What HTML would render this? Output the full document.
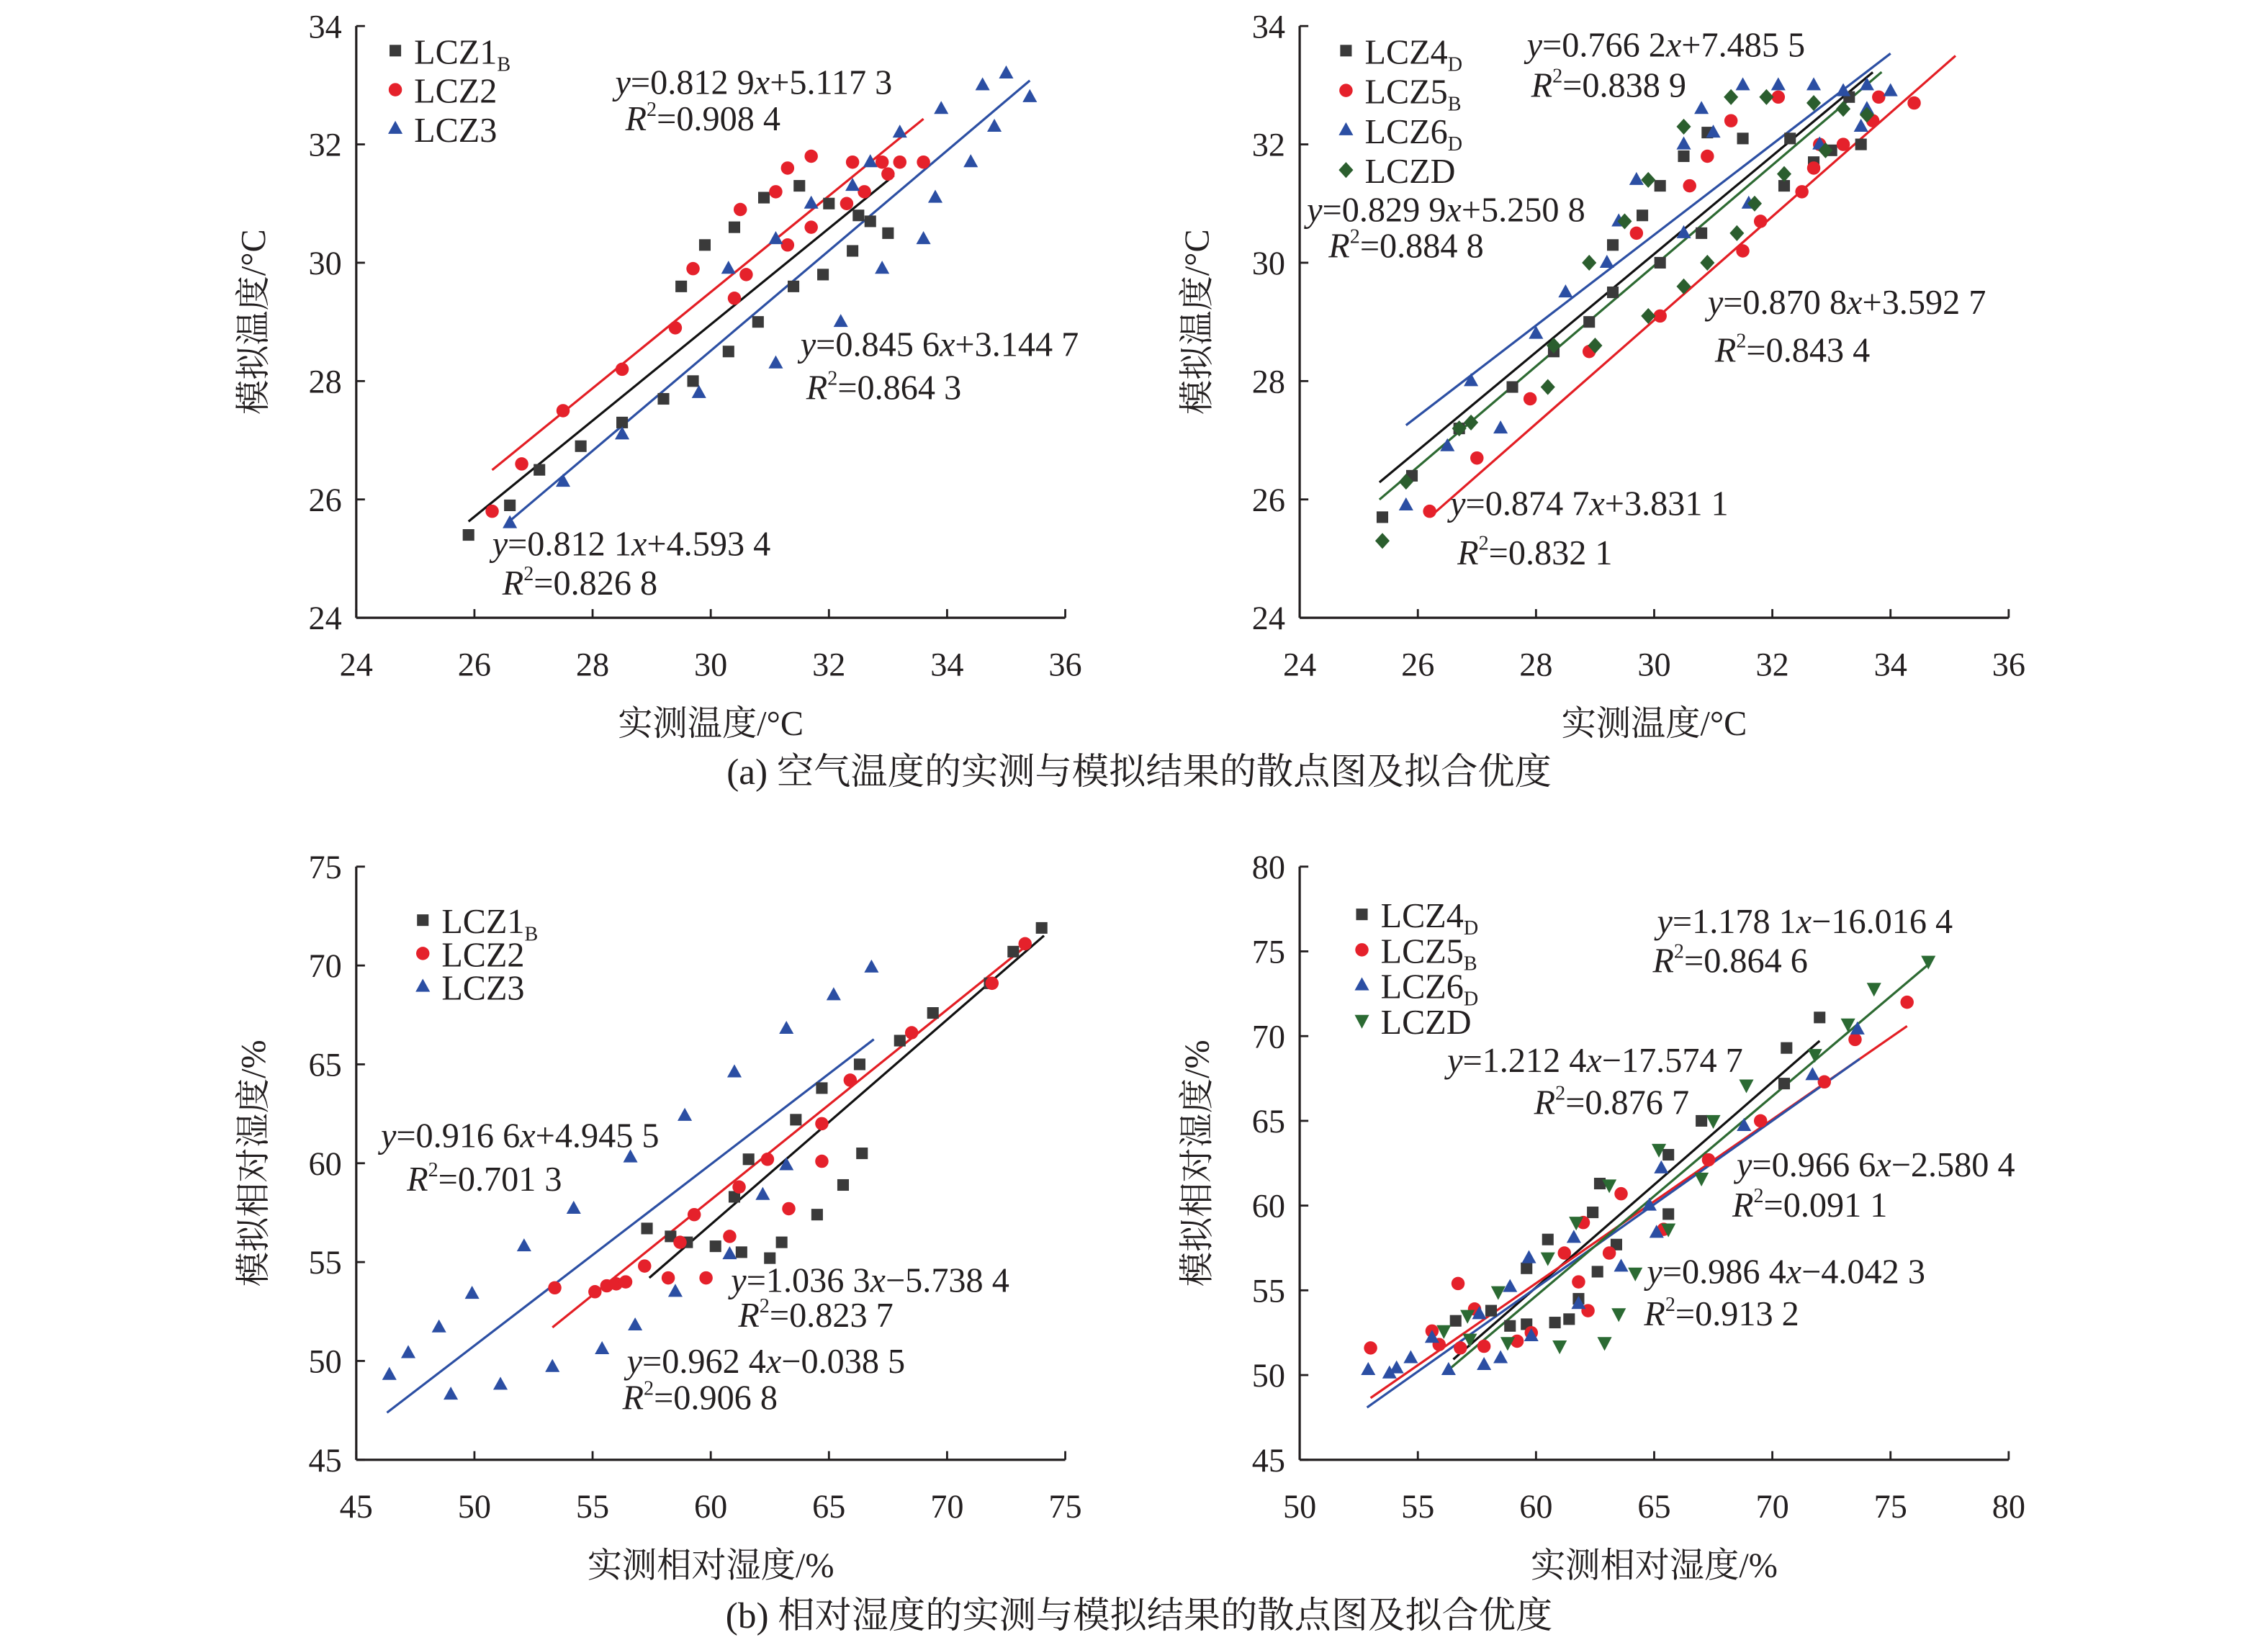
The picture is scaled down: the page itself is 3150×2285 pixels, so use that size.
<!DOCTYPE html>
<html><head><meta charset="utf-8">
<style>
html,body{margin:0;padding:0;background:#fff;}
svg{display:block;}
text{font-family:"Liberation Serif","Noto Serif CJK SC",serif;fill:#231f20;}
</style></head>
<body>
<svg id="fig" xmlns="http://www.w3.org/2000/svg" width="3150" height="2285" viewBox="0 0 1567 1137"></svg>
<script>
// ===== Chart A =====
const aTicksX = [24,26,28,30,32,34,36];
const aTicksY = [24,26,28,30,32,34];
const a1x = [25.9,26.6,27.1,27.8,28.5,29.2,29.7,29.5,29.9,30.3,30.4,30.8,30.9,31.4,31.5,31.9,32.0,32.4,32.5,32.7,33.0];
const a1y = [25.4,25.9,26.5,26.9,27.3,27.7,28.0,29.6,30.3,28.5,30.6,29.0,31.1,29.6,31.3,29.8,31.0,30.2,30.8,30.7,30.5];
const a2x = [26.3,26.8,27.5,28.5,29.4,29.7,30.4,30.5,30.6,31.1,31.3,31.3,31.7,31.7,32.3,32.4,32.6,32.9,33.0,33.2,33.6];
const a2y = [25.8,26.6,27.5,28.2,28.9,29.9,29.4,30.9,29.8,31.2,30.3,31.6,31.8,30.6,31.0,31.7,31.2,31.7,31.5,31.7,31.7];
const a3x = [26.6,27.5,28.5,29.8,30.3,31.1,31.1,31.7,32.2,32.4,32.7,32.9,33.2,33.6,33.8,33.9,34.4,34.6,34.8,35.0,35.4];
const a3y = [25.6,26.3,27.1,27.8,29.9,28.3,30.4,31.0,29.0,31.3,31.7,29.9,32.2,30.4,31.1,32.6,31.7,33.0,32.3,33.2,32.8];
const aFitSlope = [0.8121,0.8129,0.8456];
const aFitInter = [4.5934,5.1173,3.1447];
const aFitFrom = [25.9,26.3,26.6];
const aFitTo = [33.1,33.6,35.4];

// ===== Chart B =====
const bTicksX = [24,26,28,30,32,34,36];
const bTicksY = [24,26,28,30,32,34];
const b4x = [25.4,25.9,26.7,27.6,28.3,28.9,29.3,29.3,29.8,30.1,30.1,30.5,30.9,30.8,31.5,32.2,32.3,32.7,33.0,33.3,33.5];
const b4y = [25.7,26.4,27.2,27.9,28.5,29.0,29.5,30.3,30.8,31.3,30.0,31.8,32.2,30.5,32.1,31.3,32.1,31.7,31.9,32.8,32.0];
const b5x = [26.2,27.0,27.9,28.9,29.7,30.1,30.6,30.9,31.3,31.5,31.8,32.1,32.5,32.7,32.8,33.2,33.7,33.8,34.4];
const b5y = [25.8,26.7,27.7,28.5,30.5,29.1,31.3,31.8,32.4,30.2,30.7,32.8,31.2,31.6,32.0,32.0,32.4,32.8,32.7];
const b6x = [25.8,26.5,26.9,27.4,28.0,28.5,29.2,29.4,29.7,30.5,30.5,30.8,31.0,31.5,31.6,32.1,32.7,32.8,33.2,33.5,33.6,33.6,34.0];
const b6y = [25.9,26.9,28.0,27.2,28.8,29.5,30.0,30.7,31.4,30.5,32.0,32.6,32.2,33.0,31.0,33.0,33.0,32.0,32.9,32.3,32.6,33.0,32.9];
const bDx = [25.4,25.8,26.7,26.9,28.2,28.3,28.9,29.0,29.5,29.9,29.9,30.5,30.5,30.9,31.3,31.4,31.7,31.9,32.2,32.7,32.9,33.2,33.6];
const bDy = [25.3,26.3,27.2,27.3,27.9,28.6,30.0,28.6,30.7,29.1,31.4,29.6,32.3,30.0,32.8,30.5,31.0,32.8,31.5,32.7,31.9,32.6,32.5];
const bFitSlope = [0.8299,0.8760,0.7662,0.8500];
const bFitInter = [5.2508,2.75,7.4855,4.45];
const bFitFrom = [25.35,26.2,25.8,25.35];
const bFitTo = [33.7,35.1,34.0,33.85];

// ===== Chart C =====
const cTicksX = [45,50,55,60,65,70,75];
const cTicksY = [45,50,55,60,65,70,75];
const c1x = [57.3,58.3,59.0,60.2,61.0,61.3,61.6,62.5,63.0,63.6,64.5,64.7,65.6,66.4,66.3,68.0,69.4,71.8,72.8,74.0];
const c1y = [56.7,56.3,56.0,55.8,58.3,55.5,60.2,55.2,56.0,62.2,57.4,63.8,58.9,60.5,65.0,66.2,67.6,69.1,70.7,71.9];
const c2x = [53.4,55.1,55.6,56.0,56.4,57.2,58.2,58.7,59.3,59.8,60.8,61.2,62.4,63.3,64.7,64.7,65.9,68.5,71.9,73.3];
const c2y = [53.7,53.5,53.8,53.9,54.0,54.8,54.2,56.0,57.4,54.2,56.3,58.8,60.2,57.7,62.0,60.1,64.2,66.6,69.1,71.1];
const c3x = [46.4,47.2,48.5,49.0,49.9,51.1,52.1,53.3,54.2,55.4,56.6,56.8,58.5,58.9,60.8,61.0,62.2,63.2,63.2,65.2,66.8];
const c3y = [49.3,50.4,51.7,48.3,53.4,48.8,55.8,49.7,57.7,50.6,60.3,51.8,53.5,62.4,55.4,64.6,58.4,66.8,59.9,68.5,69.9];
const cFitSlope = [1.0363,0.9624,0.9166];
const cFitInter = [-5.28,0.40,4.9455];
const cFitFrom = [57.4,53.3,46.3];
const cFitTo = [74.1,73.3,66.9];

// ===== Chart D =====
const dTicksX = [50,55,60,65,70,75,80];
const dTicksY = [45,50,55,60,65,70,75,80];
const d4x = [56.6,58.1,58.9,59.6,59.6,60.5,60.8,61.4,61.8,62.4,62.6,62.7,63.4,65.6,65.6,67.0,70.5,70.6,72.0];
const d4y = [53.2,53.8,52.9,56.3,53.0,58.0,53.1,53.3,54.5,59.6,56.1,61.3,57.7,63.0,59.5,65.0,67.2,69.3,71.1];
const d5x = [53.0,55.6,55.9,56.7,56.8,57.4,57.8,59.2,59.8,61.2,61.8,62.0,62.2,63.1,63.6,65.4,67.3,69.5,72.2,73.5,75.7];
const d5y = [51.6,52.6,51.8,55.4,51.6,53.9,51.7,52.0,52.5,57.2,55.5,59.0,53.8,57.2,60.7,58.6,62.7,65.0,67.3,69.8,72.0];
const d6x = [52.9,53.8,54.1,54.7,55.6,56.3,57.6,57.8,58.5,58.9,59.7,59.8,61.6,61.8,63.6,64.8,65.1,65.3,68.8,71.7,73.6];
const d6y = [50.3,50.1,50.4,51.0,52.2,50.3,53.6,50.6,51.0,55.2,56.9,52.3,58.1,54.2,56.4,60.0,58.4,62.2,64.7,67.7,70.4];
const dDx = [56.1,57.1,57.2,58.4,58.8,60.5,61.0,61.7,62.9,63.1,63.5,64.2,65.2,65.6,67.0,67.5,68.9,71.8,73.2,74.3,76.6];
const dDy = [52.6,53.5,52.1,54.9,51.9,56.9,51.7,59.0,51.9,61.2,53.6,56.0,63.3,58.6,61.6,65.0,67.1,68.9,70.7,72.8,74.4];
const dFitSlope = [1.2124,0.9666,0.9864,1.1781];
const dFitInter = [-17.5747,-2.5804,-4.0423,-16.0164];
const dFitFrom = [56.5,53.0,52.85,56.3];
const dFitTo = [72.0,75.7,73.7,76.6];

const NS = "http://www.w3.org/2000/svg";
const svg = document.getElementById('fig');
const COL = {sq:'#3a3a3a', ci:'#e5212b', tr:'#2b4ea3', dm:'#2b5e2e', dn:'#2b6a33'};
const LINE = {k:'#111111', r:'#e31e24', b:'#2c4fa3', g:'#2d6a32'};

function mk(tag, attrs, parent){
  const e = document.createElementNS(NS, tag);
  for (const k in attrs) e.setAttribute(k, attrs[k]);
  (parent||svg).appendChild(e);
  return e;
}
function marker(g, kind, cx, cy, color){
  let e;
  if (kind==='sq') e = mk('rect',{x:cx-4,y:cy-4,width:8,height:8,fill:color},g);
  else if (kind==='ci') e = mk('circle',{cx:cx,cy:cy,r:4.6,fill:color},g);
  else if (kind==='tr') e = mk('polygon',{points:`${cx},${cy-5.5} ${cx+5},${cy+3.5} ${cx-5},${cy+3.5}`,fill:color},g);
  else if (kind==='dn') e = mk('polygon',{points:`${cx-5},${cy-4} ${cx+5},${cy-4} ${cx},${cy+5.5}`,fill:color},g);
  else e = mk('polygon',{points:`${cx},${cy-5.5} ${cx+5},${cy} ${cx},${cy+5.5} ${cx-5},${cy}`,fill:color},g);
  return e;
}
function eqText(g, x, y, parts, name){
  const t = mk('text',{x:x,y:y,'font-size':24},g);
  
  
  parts.forEach(p=>{
    const s = document.createElementNS(NS,'tspan');
    if (p[1]==='i') s.setAttribute('font-style','italic');
    if (p[1]==='sup'){ s.setAttribute('font-size','14'); s.setAttribute('dy','-10'); }
    if (p[1]==='down'){ s.setAttribute('dy','10'); }
    s.textContent = p[0];
    t.appendChild(s);
  });
}
function eqn(g,x,y,str,name){
  const i = str.indexOf('x');
  eqText(g,x,y,[['y','i'],['='+str.slice(0,i),''],['x','i'],[str.slice(i+1),'']],name);
}
function r2(g,x,y,val,name){
  eqText(g,x,y,[['R','i'],['2','sup'],['=' + val,'down']],name);
}

function chart(c){
  const g = mk('g',{});
  
  
  const sx = v => c.x0 + (v - c.xmin)/(c.xmax - c.xmin)*(c.x1 - c.x0);
  const sy = v => c.y0 - (v - c.ymin)/(c.ymax - c.ymin)*(c.y0 - c.y1);
  const ax = mk('g',{},g);
  
  
  mk('line',{x1:c.x0,y1:c.y0,x2:c.x1,y2:c.y0,stroke:'#231f20','stroke-width':1.6},ax);
  mk('line',{x1:c.x0,y1:c.y0,x2:c.x0,y2:c.y1,stroke:'#231f20','stroke-width':1.6},ax);
  c.ticksX.forEach(v=>{
    const x = sx(v);
    mk('line',{x1:x,y1:c.y0,x2:x,y2:c.y0-6,stroke:'#231f20','stroke-width':1.4},ax);
    const t = mk('text',{x:x,y:c.y0+40,'font-size':23,'text-anchor':'middle'},ax);
    
    
    t.textContent = v;
  });
  c.ticksY.forEach(v=>{
    const y = sy(v);
    mk('line',{x1:c.x0,y1:y,x2:c.x0+6,y2:y,stroke:'#231f20','stroke-width':1.4},ax);
    const t = mk('text',{x:c.x0-10,y:y+8,'font-size':23,'text-anchor':'end'},ax);
    
    
    t.textContent = v;
  });
  const xt = mk('text',{x:(c.x0+c.x1)/2,y:c.y0+81,'font-size':24,'text-anchor':'middle'},g);
  
  
  xt.textContent = c.xTitle;
  const yx = c.x0-63, yy = (c.y0+c.y1)/2;
  const yt = mk('text',{x:yx,y:yy,'font-size':24,'text-anchor':'middle',transform:`rotate(-90 ${yx} ${yy})`},g);
  
  
  yt.textContent = c.yTitle;
  c.fits.forEach(f=>{
    const x1=f.from, x2=f.to;
    const l = mk('line',{x1:sx(x1),y1:sy(f.m*x1+f.b),x2:sx(x2),y2:sy(f.m*x2+f.b),stroke:f.color,'stroke-width':1.6},g);
    
    
  });
  c.series.forEach(s=>{
    const sg = mk('g',{},g);
    
    
    s.x.forEach((v,i)=>{
      const m = marker(sg, s.kind, sx(v), sy(s.y[i]), s.color);
      
      
    });
  });
  const lg = mk('g',{},g);
  
  
  c.series.forEach((s,i)=>{
    const y = c.legY + i*c.legDy;
    const eg = mk('g',{},lg);
    
    
    marker(eg, s.kind, c.legX, y, s.color);
    const t = mk('text',{x:c.legX+13,y:y+9,'font-size':24},eg);
    const a = document.createElementNS(NS,'tspan'); a.textContent = s.label; t.appendChild(a);
    if (s.sub){
      const b = document.createElementNS(NS,'tspan');
      b.setAttribute('font-size','14'); b.setAttribute('dy','5');
      b.textContent = s.sub; t.appendChild(b);
    }
  });
  c.notes.forEach(n=>{
    eqn(g, n.x, n.y, n.eq, 'equation-'+n.id);
    r2(g, n.rx, n.ry, n.r, 'r-squared-'+n.id);
  });
}

chart({name:'chart-a-temperature-lcz1-3', x0:246,x1:736,y0:427,y1:18, xmin:24,xmax:36,ymin:24,ymax:34,
  ticksX:aTicksX, ticksY:aTicksY, xTitle:'实测温度/°C', yTitle:'模拟温度/°C',
  legX:273, legY:35, legDy:27,
  series:[
    {id:'lcz1b',kind:'sq',color:COL.sq,x:a1x,y:a1y,label:'LCZ1',sub:'B'},
    {id:'lcz2',kind:'ci',color:COL.ci,x:a2x,y:a2y,label:'LCZ2'},
    {id:'lcz3',kind:'tr',color:COL.tr,x:a3x,y:a3y,label:'LCZ3'}],
  fits:[
    {id:'lcz1b',color:LINE.k,m:aFitSlope[0],b:aFitInter[0],from:aFitFrom[0],to:aFitTo[0]},
    {id:'lcz2',color:LINE.r,m:aFitSlope[1],b:aFitInter[1],from:aFitFrom[1],to:aFitTo[1]},
    {id:'lcz3',color:LINE.b,m:aFitSlope[2],b:aFitInter[2],from:aFitFrom[2],to:aFitTo[2]}],
  notes:[
    {id:'lcz2',x:425,y:65,eq:'0.812 9x+5.117 3',rx:432,ry:90,r:'0.908 4'},
    {id:'lcz3',x:553,y:246,eq:'0.845 6x+3.144 7',rx:557,ry:276,r:'0.864 3'},
    {id:'lcz1b',x:340,y:384,eq:'0.812 1x+4.593 4',rx:347,ry:411,r:'0.826 8'}]
});

chart({name:'chart-b-temperature-lcz4-6', x0:898,x1:1388,y0:427,y1:18, xmin:24,xmax:36,ymin:24,ymax:34,
  ticksX:bTicksX, ticksY:bTicksY, xTitle:'实测温度/°C', yTitle:'模拟温度/°C',
  legX:930, legY:35, legDy:27.5,
  series:[
    {id:'lcz4d',kind:'sq',color:COL.sq,x:b4x,y:b4y,label:'LCZ4',sub:'D'},
    {id:'lcz5b',kind:'ci',color:COL.ci,x:b5x,y:b5y,label:'LCZ5',sub:'B'},
    {id:'lcz6d',kind:'tr',color:COL.tr,x:b6x,y:b6y,label:'LCZ6',sub:'D'},
    {id:'lczd',kind:'dm',color:COL.dm,x:bDx,y:bDy,label:'LCZD'}],
  fits:[
    {id:'lcz4d',color:LINE.k,m:bFitSlope[0],b:bFitInter[0],from:bFitFrom[0],to:bFitTo[0]},
    {id:'lcz5b',color:LINE.r,m:bFitSlope[1],b:bFitInter[1],from:bFitFrom[1],to:bFitTo[1]},
    {id:'lcz6d',color:LINE.b,m:bFitSlope[2],b:bFitInter[2],from:bFitFrom[2],to:bFitTo[2]},
    {id:'lczd',color:LINE.g,m:bFitSlope[3],b:bFitInter[3],from:bFitFrom[3],to:bFitTo[3]}],
  notes:[
    {id:'lcz6d',x:1055,y:39,eq:'0.766 2x+7.485 5',rx:1058,ry:67,r:'0.838 9'},
    {id:'lcz4d',x:903,y:153,eq:'0.829 9x+5.250 8',rx:918,ry:178,r:'0.884 8'},
    {id:'lcz5b',x:1180,y:217,eq:'0.870 8x+3.592 7',rx:1185,ry:250,r:'0.843 4'},
    {id:'lczd',x:1002,y:356,eq:'0.874 7x+3.831 1',rx:1007,ry:390,r:'0.832 1'}]
});

chart({name:'chart-c-humidity-lcz1-3', x0:246,x1:736,y0:1009,y1:599, xmin:45,xmax:75,ymin:45,ymax:75,
  ticksX:cTicksX, ticksY:cTicksY, xTitle:'实测相对湿度/%', yTitle:'模拟相对湿度/%',
  legX:292, legY:636, legDy:23,
  series:[
    {id:'lcz1b',kind:'sq',color:COL.sq,x:c1x,y:c1y,label:'LCZ1',sub:'B'},
    {id:'lcz2',kind:'ci',color:COL.ci,x:c2x,y:c2y,label:'LCZ2'},
    {id:'lcz3',kind:'tr',color:COL.tr,x:c3x,y:c3y,label:'LCZ3'}],
  fits:[
    {id:'lcz1b',color:LINE.k,m:cFitSlope[0],b:cFitInter[0],from:cFitFrom[0],to:cFitTo[0]},
    {id:'lcz2',color:LINE.r,m:cFitSlope[1],b:cFitInter[1],from:cFitFrom[1],to:cFitTo[1]},
    {id:'lcz3',color:LINE.b,m:cFitSlope[2],b:cFitInter[2],from:cFitFrom[2],to:cFitTo[2]}],
  notes:[
    {id:'lcz3',x:263,y:793,eq:'0.916 6x+4.945 5',rx:281,ry:823,r:'0.701 3'},
    {id:'lcz1b',x:505,y:893,eq:'1.036 3x−5.738 4',rx:510,ry:917,r:'0.823 7'},
    {id:'lcz2',x:433,y:949,eq:'0.962 4x−0.038 5',rx:430,ry:974,r:'0.906 8'}]
});

chart({name:'chart-d-humidity-lcz4-6', x0:898,x1:1388,y0:1009,y1:599, xmin:50,xmax:80,ymin:45,ymax:80,
  ticksX:dTicksX, ticksY:dTicksY, xTitle:'实测相对湿度/%', yTitle:'模拟相对湿度/%',
  legX:941, legY:632, legDy:24.5,
  series:[
    {id:'lcz4d',kind:'sq',color:COL.sq,x:d4x,y:d4y,label:'LCZ4',sub:'D'},
    {id:'lcz5b',kind:'ci',color:COL.ci,x:d5x,y:d5y,label:'LCZ5',sub:'B'},
    {id:'lcz6d',kind:'tr',color:COL.tr,x:d6x,y:d6y,label:'LCZ6',sub:'D'},
    {id:'lczd',kind:'dn',color:COL.dn,x:dDx,y:dDy,label:'LCZD'}],
  fits:[
    {id:'lcz4d',color:LINE.k,m:dFitSlope[0],b:dFitInter[0],from:dFitFrom[0],to:dFitTo[0]},
    {id:'lcz5b',color:LINE.r,m:dFitSlope[1],b:dFitInter[1],from:dFitFrom[1],to:dFitTo[1]},
    {id:'lcz6d',color:LINE.b,m:dFitSlope[2],b:dFitInter[2],from:dFitFrom[2],to:dFitTo[2]},
    {id:'lczd',color:LINE.g,m:dFitSlope[3],b:dFitInter[3],from:dFitFrom[3],to:dFitTo[3]}],
  notes:[
    {id:'lczd',x:1145,y:645,eq:'1.178 1x−16.016 4',rx:1142,ry:672,r:'0.864 6'},
    {id:'lcz4d',x:1000,y:741,eq:'1.212 4x−17.574 7',rx:1060,ry:770,r:'0.876 7'},
    {id:'lcz5b',x:1200,y:813,eq:'0.966 6x−2.580 4',rx:1197,ry:841,r:'0.091 1'},
    {id:'lcz6d',x:1138,y:887,eq:'0.986 4x−4.042 3',rx:1136,ry:916,r:'0.913 2'}]
});

const capA = mk('text',{x:787,y:542,'font-size':25.5,'text-anchor':'middle'});


capA.textContent = '(a) 空气温度的实测与模拟结果的散点图及拟合优度';
const capB = mk('text',{x:787,y:1125,'font-size':25.5,'text-anchor':'middle'});


capB.textContent = '(b) 相对湿度的实测与模拟结果的散点图及拟合优度';
</script>
</body></html>
